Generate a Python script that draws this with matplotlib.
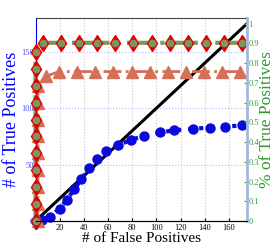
import numpy as np
import matplotlib
matplotlib.use("Agg")
import matplotlib.pyplot as plt

plt.rcParams['font.family'] = ['Liberation Serif', 'DejaVu Serif']

# total number of true items (right axis is fraction of this)
total = 175

# blue circles - dotted
fp_blue = [0, 5, 12, 20, 26, 32, 38, 44, 51, 58, 68, 79, 90, 103, 115, 130, 144, 157, 171]
tp_blue = [0, 1, 4, 11, 19, 28, 37, 47, 55, 62, 67, 72, 75.5, 78.5, 80.5, 81.7, 82.9, 83.8, 84.7]

# green / red diamonds
fp_green = [0, 0, 0, 0, 0, 0, 0, 0, 0, 0, 0, 6, 21, 36, 51, 66, 81, 96, 111, 126, 141, 156, 171]
tp_green = [0, 15, 30, 45, 60, 75, 90, 105, 120, 135, 150, 158, 158, 158, 158, 158, 158, 158, 158, 158, 158, 158, 158]

# salmon triangles
fp_tri = [2, 2, 2, 2, 2, 2, 2, 2, 2, 9, 19.5, 34.5, 49.5, 64.5, 79.5, 94.5, 109.5, 124.5, 139.5, 154.5, 169.5]
tp_tri = [0, 15, 30, 45, 60, 75, 90, 105, 120, 128.5, 132.5, 132.5, 132.5, 132.5, 132.5, 132.5, 132.5, 132.5, 132.5, 132.5, 132.5]

diag = [0, total]

fig = plt.figure(figsize=(2.74, 2.49), dpi=100)
ax = fig.add_axes([0.1296, 0.1124, 0.7719, 0.8153])

ax.plot(diag, diag, color='black', lw=2.2, zorder=4)
ax.plot(fp_blue, tp_blue, ls=':', lw=3, color='#0a0adc', marker='o', ms=6.5, zorder=5, clip_on=False)
ax.plot(fp_tri, tp_tri, ls='-.', lw=2, color='#d4705a', marker='^', ms=8, zorder=6, clip_on=False)
ax.plot(fp_green, tp_green, ls='-.', lw=3, color='#7d9660', zorder=7, clip_on=False)
ax.plot(fp_green, tp_green, ls='none', marker='d', ms=8, color='#e00000', zorder=7, clip_on=False)
ax.plot(fp_green, tp_green, ls='none', marker='o', ms=4.5, color='#7d9660', zorder=8, clip_on=False)

ax.set_xlim(0, total)
ax.set_ylim(0, 180)
ax.set_xticks(np.arange(0, 161, 20))
ax.set_yticks([0, 50, 100, 150])
ax.tick_params(axis='x', labelsize=6, length=2, direction='in', pad=2)
ax.tick_params(axis='y', labelsize=6, length=2, direction='in', pad=1, labelcolor='#4b4bff', color='blue')
ax.xaxis.grid(True, ls=':', color='#c8c8c8', lw=0.8)
ax.yaxis.grid(True, ls=':', color='#b8b8f0', lw=0.8)
ax.set_axisbelow(True)

ax.spines['left'].set_color('blue')
ax.spines['top'].set_color('#444444')
ax.spines['right'].set_visible(False)

ax.set_xlabel('# of False Positives', fontsize=11, labelpad=0)
ax.set_ylabel('# of True Positives', fontsize=13, color='blue', labelpad=1)

ax2 = ax.twinx()
ax2.set_ylim(0, 180 / total)
ax2.set_yticks(np.arange(0, 1.01, 0.1))
ax2.set_yticklabels(['0', '0.1', '0.2', '0.3', '0.4', '0.5', '0.6', '0.7', '0.8', '0.9', '1'])
ax2.tick_params(axis='y', labelsize=6, length=2, direction='in', pad=1, labelcolor='#3a9a3a', color='#3a9a3a')
ax2.spines['right'].set_color('#a3b8d6')
ax2.spines['right'].set_linewidth(2)
ax2.spines['left'].set_visible(False)
ax2.spines['top'].set_visible(False)
ax2.set_ylabel('% of True Positives', fontsize=12.5, color='#2e9a2e', labelpad=0)

fig.savefig('out.png', dpi=100)
